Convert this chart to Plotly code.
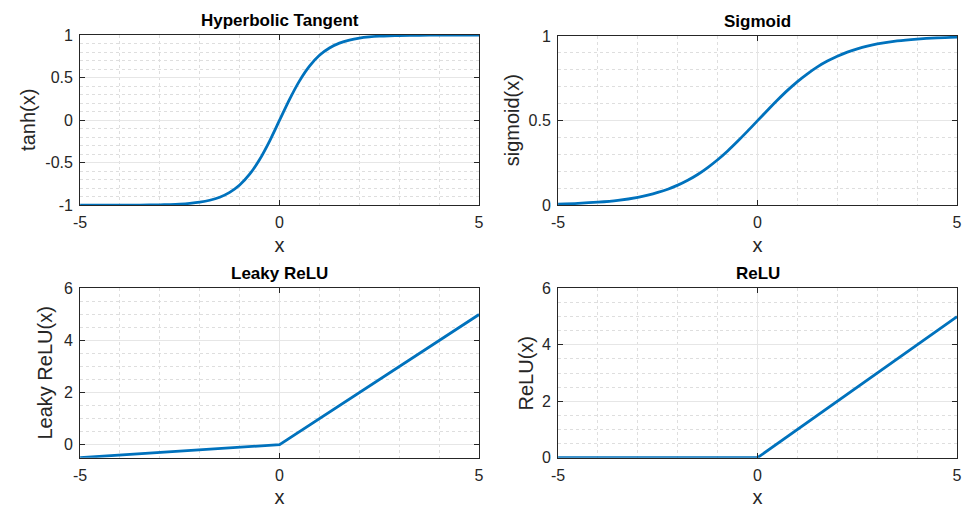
import plotly.graph_objects as go

# ---- data ----
x_smooth = [-5, -4.5, -4, -3.5, -3, -2.75, -2.5, -2.25, -2, -1.75, -1.5, -1.25, -1, -0.75, -0.5, -0.25, 0,
            0.25, 0.5, 0.75, 1, 1.25, 1.5, 1.75, 2, 2.25, 2.5, 2.75, 3, 3.5, 4, 4.5, 5]
tanh_vals = [-1.0, -1.0, -0.999, -0.998, -0.995, -0.992, -0.987, -0.978, -0.964, -0.941, -0.905, -0.848,
             -0.762, -0.635, -0.462, -0.245, 0.0,
             0.245, 0.462, 0.635, 0.762, 0.848, 0.905, 0.941, 0.964, 0.978, 0.987, 0.992, 0.995,
             0.998, 0.999, 1.0, 1.0]
sigmoid_vals = [0.007, 0.011, 0.018, 0.029, 0.047, 0.060, 0.076, 0.095, 0.119, 0.148, 0.182, 0.223,
                0.269, 0.321, 0.378, 0.438, 0.5,
                0.562, 0.622, 0.679, 0.731, 0.777, 0.818, 0.852, 0.881, 0.905, 0.924, 0.940, 0.953,
                0.971, 0.982, 0.989, 0.993]
x_piece = [-5, 0, 5]
leaky_vals = [-0.5, 0.0, 5.0]
relu_vals = [0.0, 0.0, 5.0]

titles = ["Hyperbolic Tangent", "Sigmoid", "Leaky ReLU", "ReLU"]
ylabels = ["tanh(x)", "sigmoid(x)", "Leaky ReLU(x)", "ReLU(x)"]
x_ticks = [-5, 0, 5]
tanh_ticks = [-1, -0.5, 0, 0.5, 1]
sigmoid_ticks = [0, 0.5, 1]
relu_ticks = [0, 2, 4, 6]

LINE = "#0072BD"
FONT = "Liberation Sans, Arial, sans-serif"
W, H = 966, 515

fig = go.Figure()

panels = [
    dict(x=x_smooth, y=tanh_vals, shape="spline", yr=[-1, 1], yt=tanh_ticks, ym=0.1,
         xd=[74, 478], yd=[28, 204], ylx=21),
    dict(x=x_smooth, y=sigmoid_vals, shape="spline", yr=[0, 1], yt=sigmoid_ticks, ym=0.1,
         xd=[558, 962], yd=[29, 204], ylx=511),
    dict(x=x_piece, y=leaky_vals, shape="linear", yr=[-0.5, 6], yt=relu_ticks, ym=0.5,
         xd=[74, 478], yd=[290, 465], ylx=39),
    dict(x=x_piece, y=relu_vals, shape="linear", yr=[0, 6], yt=relu_ticks, ym=0.5,
         xd=[558, 962], yd=[290, 465], ylx=526),
]

layout = {}
for i, p in enumerate(panels):
    n = "" if i == 0 else str(i + 1)
    fig.add_trace(go.Scatter(x=p["x"], y=p["y"], mode="lines",
                             line=dict(color=LINE, width=2.8, shape=p["shape"], smoothing=0.8),
                             xaxis="x" + n, yaxis="y" + n, showlegend=False, hoverinfo="skip"))
    xdom = [p["xd"][0] / W, p["xd"][1] / W]
    ydom = [1 - p["yd"][1] / H, 1 - p["yd"][0] / H]
    common = dict(showline=True, linecolor="#262626", linewidth=1, mirror="ticks",
                  ticks="inside", ticklen=5, tickcolor="#262626",
                  tickfont=dict(family=FONT, size=16, color="#262626"),
                  showgrid=True, gridcolor="#e6e6e6", gridwidth=1, zeroline=False)
    layout["xaxis" + n] = dict(common, domain=xdom, anchor="y" + n, range=[-5, 5],
                               tickmode="array", tickvals=x_ticks, ticktext=["-5", "0", "5"],
                               ticklabelstandoff=3,
                               minor=dict(dtick=1, showgrid=True, gridcolor="#dedede",
                                          griddash="dot", ticks=""),
                               title=dict(text="x", font=dict(family=FONT, size=20, color="#262626"),
                                          standoff=7))
    layout["yaxis" + n] = dict(common, domain=ydom, anchor="x" + n, range=p["yr"],
                               tickmode="array", tickvals=p["yt"],
                               ticktext=[("%g" % v) for v in p["yt"]],
                               ticklabelstandoff=3,
                               minor=dict(dtick=p["ym"], tick0=0, showgrid=True, gridcolor="#dedede",
                                          griddash="dot", ticks=""))
    fig.add_annotation(text=ylabels[i], xref="paper", yref="paper",
                       x=p["ylx"] / W, y=(ydom[0] + ydom[1]) / 2, textangle=-90,
                       xanchor="center", yanchor="middle", showarrow=False,
                       font=dict(family=FONT, size=20, color="#262626"))
    fig.add_annotation(text="<b>" + titles[i] + "</b>", xref="paper", yref="paper",
                       x=(xdom[0] + xdom[1]) / 2, y=ydom[1], yanchor="bottom", xanchor="center",
                       yshift=3, showarrow=False,
                       font=dict(family=FONT, size=17, color="black"))

fig.update_layout(width=W, height=H, margin=dict(l=0, r=0, t=0, b=0),
                  paper_bgcolor="white", plot_bgcolor="white", **layout)
fig.write_html("out.html")
